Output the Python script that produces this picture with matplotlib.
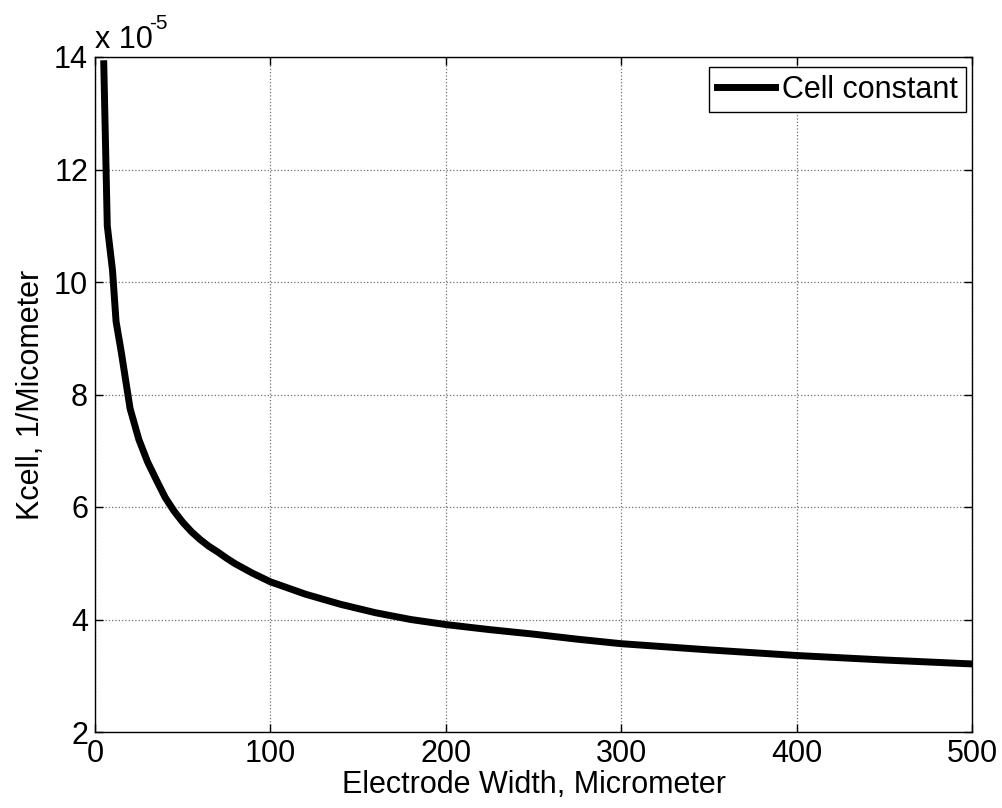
import matplotlib
matplotlib.use("Agg")
import matplotlib.pyplot as plt

plt.rcParams['font.family'] = ['Liberation Sans', 'DejaVu Sans']

# Data (Kcell in units of 1e-5 1/Micrometer)
electrode_width = [5, 7, 10, 12, 15, 20, 25, 30, 35, 40, 45, 50, 55, 60, 65, 70, 75, 80, 90,
                   100, 120, 140, 160, 180, 200, 225, 250, 275, 300, 350, 400, 450, 500]
kcell_e5 = [13.88, 11.0, 10.2, 9.3, 8.75, 7.75, 7.2, 6.8, 6.48, 6.17, 5.93, 5.73, 5.56,
            5.42, 5.3, 5.2, 5.09, 4.99, 4.82, 4.67, 4.45, 4.27, 4.12, 4.0, 3.91, 3.82,
            3.74, 3.65, 3.57, 3.46, 3.36, 3.28, 3.21]
x_ticks = [0, 100, 200, 300, 400, 500]
y_ticks = [2, 4, 6, 8, 10, 12, 14]

FS = 22

fig = plt.figure(figsize=(10.03, 8.08), dpi=100)
ax = fig.add_axes([95/1003, 76/808, (972-95)/1003, (732-57)/808])

ax.plot(electrode_width, kcell_e5, color='black', lw=5, label='Cell constant')

ax.set_xlim(0, 500)
ax.set_ylim(2, 14)
ax.set_xticks(x_ticks)
ax.set_yticks(y_ticks)
ax.tick_params(direction='in', length=6, width=1, labelsize=FS, top=True, right=True,
               pad=5, colors='black')
ax.grid(True, linestyle=':', color='#707070', linewidth=0.9)
for s in ax.spines.values():
    s.set_linewidth(1.0)
    s.set_color('black')

ax.set_xlabel('Electrode Width, Micrometer', fontsize=FS, labelpad=1)
ax.set_ylabel('Kcell, 1/Micometer', fontsize=FS, labelpad=6)

# exponent label in MATLAB style
fig.text(95/1003, (808-48)/808, 'x 10', fontsize=FS, ha='left', va='baseline')
fig.text(149/1003, (808-29)/808, '-5', fontsize=15, ha='left', va='baseline')

leg = ax.legend(loc='upper right', bbox_to_anchor=(0.993, 0.985), borderaxespad=0,
                fontsize=FS, frameon=True, fancybox=False, edgecolor='black',
                framealpha=1, handlelength=1.9, handletextpad=0.25, borderpad=0.25)
leg.get_frame().set_linewidth(1.0)

fig.savefig('out.png', dpi=100)
